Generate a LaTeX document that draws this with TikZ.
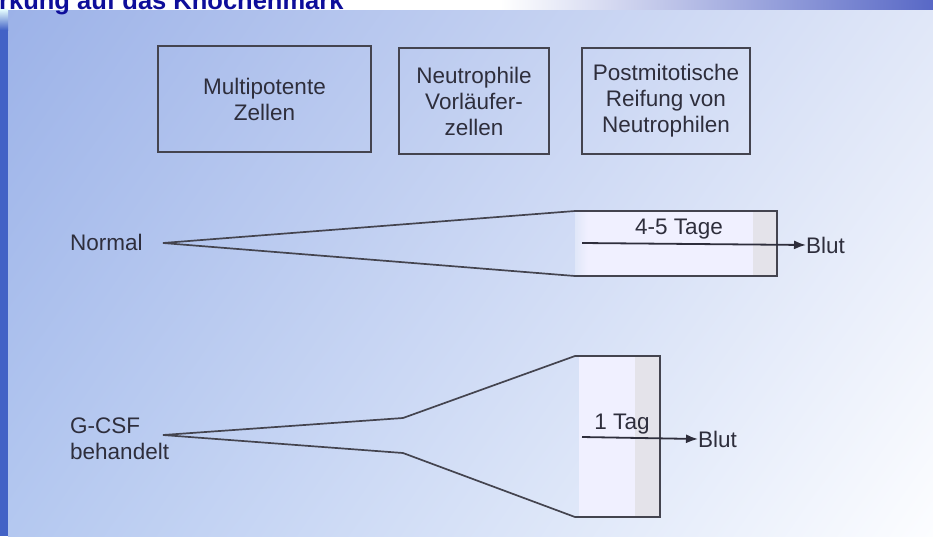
\documentclass[tikz,border=0pt]{standalone}
\usepackage{fontspec}
\setmainfont{Liberation Sans}
\usetikzlibrary{arrows.meta,shadings}
\definecolor{ink}{HTML}{2E2E3C}
\definecolor{edge}{HTML}{44444F}
\definecolor{titleblue}{HTML}{0E0E9A}
\definecolor{strip}{HTML}{4262C6}
\definecolor{bgUL}{HTML}{9CB2E8}
\definecolor{bgUR}{HTML}{E0E7F8}
\definecolor{bgLL}{HTML}{B4C8F0}
\definecolor{bgLR}{HTML}{FCFDFF}
\definecolor{band}{HTML}{E4E3EA}
\definecolor{topblue}{HTML}{5868C6}
\begin{document}
\begin{tikzpicture}[x=1pt,y=-1pt,
  lbl/.style={font=\fontsize{22.5}{26}\selectfont, text=ink, inner sep=0pt},
  cellbox/.style={draw=edge, line width=1.7pt, lbl, align=center, inner sep=0pt},
  wedge/.style={draw=edge, line width=1.7pt, line join=miter},
  flow/.style={draw=ink, line width=1.8pt, -{Latex[length=12pt,width=9pt]}}
]
\useasboundingbox (0,0) rectangle (933,536);
\clip (0,0) rectangle (933,536);
% background
\fill[white] (0,0) rectangle (933,10);
\shade[left color=white, right color=topblue] (500,0) rectangle (933,9);
\fill[white] (0,0) rectangle (500,9);
\shade[upper left=bgUL, upper right=bgUR, lower left=bgLL, lower right=bgLR] (8,10) rectangle (933,536);
\fill[strip] (0,18) rectangle (8,536);
\shade[top color=white!70!cyan!30, bottom color=strip] (0,9) rectangle (8,30);
% title
\node[anchor=base west, inner sep=0pt, font=\bfseries\fontsize{25.5}{28}\selectfont, text=titleblue] (title) at (-1,9) {rkung auf das Knochenmark};
% boxes
\node[cellbox, minimum width=213pt, minimum height=106pt] (b1) at (264.5,99) {Multipotente\\Zellen};
\node[cellbox, minimum width=150pt, minimum height=106pt] (b2) at (474,101) {Neutrophile\\Vorläufer-\\zellen};
\node[cellbox, minimum width=168pt, minimum height=106pt] (b3) at (666,101) {Postmitotische\\Reifung von\\Neutrophilen};
% Normal
\shade[left color=bgUR, right color=white!94!blue, middle color=white!94!blue] (575,212) rectangle (600,276);
\fill[white!94!blue] (590,212) rectangle (777,276);
\fill[band] (753,212) rectangle (777,276);
\coordinate (nA) at (163,243);
\coordinate (nT) at (575,211);
\coordinate (nTR) at (777,211);
\coordinate (nBR) at (777,276);
\coordinate (nB) at (575,276);
\draw[wedge] (nA) -- (nT) -- (nTR) -- (nBR) -- (nB) -- cycle;
\node[lbl, anchor=base west] (normal) at (70,250) {Normal};
\coordinate (s1) at (582,243);
\node[lbl, anchor=west] (blut1) at (806,245) {Blut};
\draw[flow] (s1) -- (blut1.west);
\node[lbl, anchor=base] (t1) at (679,234) {4-5 Tage};
% G-CSF
\fill[white!94!blue] (579,356) rectangle (660,517);
\fill[band] (635,356) rectangle (660,517);
\coordinate (gA) at (163,435);
\coordinate (gU1) at (403,418);
\coordinate (gU2) at (575,356);
\coordinate (gUR) at (660,356);
\coordinate (gBR) at (660,517);
\coordinate (gL2) at (575,517);
\coordinate (gL1) at (403,453);
\draw[wedge] (gA) -- (gU1) -- (gU2) -- (gUR) -- (gBR) -- (gL2) -- (gL1) -- cycle;
\node[lbl, anchor=north west, align=left] (gcsf) at (70,418) {G-CSF\\behandelt};
\coordinate (s2) at (582,437);
\node[lbl, anchor=west] (blut2) at (698,439) {Blut};
\draw[flow] (s2) -- (blut2.west);
\node[lbl, anchor=base] (t2) at (622,429) {1 Tag};
\end{tikzpicture}
\end{document}
